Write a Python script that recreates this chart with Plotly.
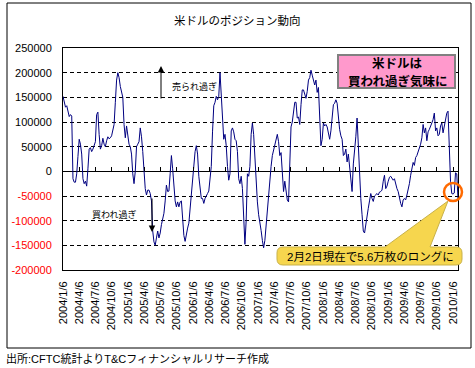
import plotly.graph_objects as go
import pandas as pd

# ---------------- data ----------------
start_date = "2004-01-06"          # weekly CFTC data (Tuesdays) up to 2010-02-02
positions = [
    152000, 140000, 130000, 133000, 118000, 111000, 115000, 112000, -15000, -22000,
    -22000, -5000, 30000, 65000, 55000, 35000, -15000, -25000, -20000, -30000,
    5000, 45000, 48000, 40000, 45000, 55000, 60000, 115000, 120000, 75000,
    45000, 52000, 67000, 55000, 50000, 62000, 70000, 66000, 68000, 72000,
    85000, 95000, 140000, 185000, 200000, 190000, 172000, 160000, 150000, 95000,
    68000, 92000, 75000, 55000, 50000, 35000, -5000, -25000, 0, 50000,
    55000, 60000, 88000, 70000, 40000, 5000, -35000, -48000, -38000, -38000,
    -45000, -60000, -121000, -143000, -150000, -135000, -121000, -135000, -125000, -108000,
    -95000, -85000, -60000, -28000, -41000, -40000, -5000, 32000, 5000, -35000,
    -60000, -72000, -62000, -72000, -62000, -60000, -100000, -130000, -142000, -125000,
    -115000, -105000, -75000, -40000, -5000, 25000, 40000, 52000, 35000, -10000,
    -40000, -55000, -55000, -65000, -55000, -48000, -45000, -40000, -20000, 10000,
    80000, 133000, 140000, 152000, 145000, 152000, 200000, 150000, 92000, 65000,
    75000, 52000, 10000, -18000, -5000, 82000, 88000, 80000, 65000, 62000,
    40000, -15000, -25000, -10000, -35000, -100000, -148000, -100000, -5000, -10000,
    10000, 75000, 98000, 75000, 25000, -25000, -62000, -88000, -110000, -120000,
    -140000, -155000, -140000, -110000, -68000, -45000, -25000, 10000, 32000, 42000,
    55000, 59000, 75000, 60000, 32000, 38000, 5000, -41000, -20000, -35000,
    -58000, -62000, 30000, 90000, 100000, 125000, 140000, 140000, 108000, 110000,
    95000, 135000, 165000, 165000, 155000, 148000, 162000, 185000, 190000, 205000,
    195000, 185000, 175000, 185000, 160000, 170000, 118000, 52000, 65000, 98000,
    92000, 95000, 90000, 80000, 65000, 82000, 110000, 135000, 138000, 145000,
    138000, 105000, 85000, 72000, 65000, 32000, 35000, 45000, 19000, 35000,
    5000, -20000, -41000, 15000, 40000, 70000, 108000, 50000, -15000, -55000,
    -88000, -121000, -125000, -105000, -92000, -75000, -60000, -45000, -55000, -61000,
    -50000, -47000, -45000, -48000, -42000, -41000, -38000, -20000, -8000, -35000,
    -30000, -20000, -12000, -10000, -15000, -18000, -15000, -28000, -35000, -41000,
    -55000, -65000, -72000, -58000, -55000, -58000, -48000, -38000, -25000, -8000,
    5000, 18000, 12000, 28000, 32000, 39000, 45000, 55000, 68000, 95000,
    78000, 88000, 62000, 80000, 85000, 90000, 98000, 105000, 118000, 82000,
    88000, 72000, 75000, 92000, 98000, 78000, 90000, 105000, 118000, 122000,
    52000, -20000, -45000, -46000, -44000, -3000, -5000, -56000,
]
dates = pd.date_range(start_date, periods=len(positions), freq="7D")

tick_dates = [
    "2004-01-06", "2004-04-06", "2004-07-06", "2004-10-06",
    "2005-01-06", "2005-04-06", "2005-07-06", "2005-10-06",
    "2006-01-06", "2006-04-06", "2006-07-06", "2006-10-06",
    "2007-01-06", "2007-04-06", "2007-07-06", "2007-10-06",
    "2008-01-06", "2008-04-06", "2008-07-06", "2008-10-06",
    "2009-01-06", "2009-04-06", "2009-07-06", "2009-10-06",
    "2010-01-06",
]
tick_labels = [
    "2004/1/6", "2004/4/6", "2004/7/6", "2004/10/6",
    "2005/1/6", "2005/4/6", "2005/7/6", "2005/10/6",
    "2006/1/6", "2006/4/6", "2006/7/6", "2006/10/6",
    "2007/1/6", "2007/4/6", "2007/7/6", "2007/10/6",
    "2008/1/6", "2008/4/6", "2008/7/6", "2008/10/6",
    "2009/1/6", "2009/4/6", "2009/7/6", "2009/10/6",
    "2010/1/6",
]
y_ticks = [-200000, -150000, -100000, -50000, 0, 50000, 100000, 150000, 200000, 250000]
y_labels = [f'<span style="color:#FF0000">{v}</span>' if v < 0 else str(v) for v in y_ticks]
x_range = ["2004-01-06", "2010-02-02"]
y_range = [-200000, 250000]

title_text = "米ドルのポジション動向"
note_sold = "売られ過ぎ"
note_bought = "買われ過ぎ"
box_line1 = "米ドルは"
box_line2 = "買われ過ぎ気味に"
callout_text = "2月2日現在で5.6万枚のロングに"
source_text = "出所:CFTC統計よりT&Cフィナンシャルリサーチ作成"

# ---------------- layout helpers ----------------
W, H = 475, 368
L, R, T, B = 63, 17, 48, 98
PW, PH = W - L - R, H - T - B


def fx(px):
    return (px - L) / PW


def fy(py):
    return (H - B - py) / PH


JP = "Noto Sans CJK JP"
NUM = "Liberation Sans, Noto Sans CJK JP"

fig = go.Figure()
fig.add_trace(go.Scatter(
    x=dates, y=positions, mode="lines",
    line=dict(color="#000080", width=1),
    showlegend=False, hoverinfo="skip",
))
# invisible trace to activate the tick axis lying on the zero line
fig.add_trace(go.Scatter(
    x=dates[:1], y=[0], xaxis="x2", mode="markers",
    marker=dict(opacity=0), showlegend=False, hoverinfo="skip",
))

fig.update_layout(
    template="none",
    width=W, height=H,
    margin=dict(l=L, r=R, t=T, b=B, pad=0),
    paper_bgcolor="white", plot_bgcolor="white",
    font=dict(family=NUM, size=11, color="black"),
    showlegend=False,
    xaxis=dict(
        type="date", range=x_range, autorange=False,
        tickmode="array", tickvals=tick_dates, ticktext=tick_labels,
        tickangle=-90, ticks="", ticklabelstandoff=6,
        tickfont=dict(family=NUM, size=11, color="black"),
        showline=True, mirror=True, linecolor="black", linewidth=1,
        showgrid=False, zeroline=False, automargin=False,
    ),
    xaxis2=dict(
        type="date", range=x_range, autorange=False, overlaying="x",
        anchor="free", position=4 / 9, side="bottom",
        tickmode="array", tickvals=tick_dates,
        ticks="inside", ticklen=4, tickwidth=1, tickcolor="black",
        showticklabels=False, showline=False, showgrid=False,
        zeroline=False, automargin=False,
    ),
    yaxis=dict(
        range=y_range, autorange=False,
        tickmode="array", tickvals=y_ticks, ticktext=y_labels,
        ticks="", ticklabelstandoff=8,
        tickfont=dict(family=NUM, size=11, color="black"),
        showline=True, mirror=True, linecolor="black", linewidth=1,
        showgrid=True, gridcolor="black", gridwidth=1, griddash="4px,3px",
        zeroline=True, zerolinecolor="black", zerolinewidth=1,
        automargin=False,
    ),
)

# callout (rounded rectangle with pointer), in pixel-derived paper coords
cx0, cx1, cy0, cy1, r = 277, 462, 247, 265, 6
tip = (448, 201)
pb0, pb1 = 385, 430


def P(x, y):
    return f"{fx(x):.5f},{fy(y):.5f}"


callout_path = (
    f"M{P(cx0 + r, cy0)} L{P(pb0, cy0)} L{P(*tip)} L{P(pb1, cy0)} "
    f"L{P(cx1 - r, cy0)} Q{P(cx1, cy0)} {P(cx1, cy0 + r)} "
    f"L{P(cx1, cy1 - r)} Q{P(cx1, cy1)} {P(cx1 - r, cy1)} "
    f"L{P(cx0 + r, cy1)} Q{P(cx0, cy1)} {P(cx0, cy1 - r)} "
    f"L{P(cx0, cy0 + r)} Q{P(cx0, cy0)} {P(cx0 + r, cy0)} Z"
)

shapes = [
    # outer chart frame
    dict(type="rect", xref="paper", yref="paper",
         x0=fx(7), x1=fx(471), y0=fy(348), y1=fy(3),
         line=dict(color="black", width=1), fillcolor="rgba(0,0,0,0)", layer="below"),
    # pink message box
    dict(type="rect", xref="paper", yref="paper",
         x0=fx(338), x1=fx(455), y0=fy(88), y1=fy(55),
         line=dict(color="#808080", width=2), fillcolor="#FF99CC"),
    # yellow callout
    dict(type="path", xref="paper", yref="paper", path=callout_path,
         line=dict(color="#C8B14A", width=1), fillcolor="#F6D64E"),
    # orange circle
    dict(type="circle", xref="paper", yref="paper",
         x0=fx(444), x1=fx(462), y0=fy(201), y1=fy(183),
         line=dict(color="#FF6A00", width=2.5), fillcolor="rgba(0,0,0,0)"),
]
fig.update_layout(shapes=shapes)


def txt(x, y, s, size=11, bold=False, xanchor="center", family=JP):
    fig.add_annotation(
        xref="paper", yref="paper", x=fx(x), y=fy(y), text=(f"<b>{s}</b>" if bold else s),
        showarrow=False, xanchor=xanchor, yanchor="middle",
        font=dict(family=family, size=size, color="black"),
    )


txt(237.5, 20, title_text, size=11.5)
txt(194, 86, note_sold, size=9)
txt(114, 214, note_bought, size=9)
txt(397, 63, box_line1, size=12.5, bold=True)
txt(397, 80, box_line2, size=12.5, bold=True)
txt(370, 256, callout_text, size=11.5, family=NUM)
txt(4, 358, source_text, size=11, xanchor="left", family=NUM)

# arrows
fig.add_annotation(xref="paper", yref="paper", x=fx(161), y=fy(66), text="",
                   showarrow=True, ax=0, ay=34, arrowhead=2, arrowsize=1.3,
                   arrowwidth=1, arrowcolor="black")
fig.add_annotation(xref="paper", yref="paper", x=fx(152), y=fy(232), text="",
                   showarrow=True, ax=0, ay=-35, arrowhead=2, arrowsize=1.3,
                   arrowwidth=1, arrowcolor="black")

fig.write_html("out.html", config={"displayModeBar": False},
               post_script="document.body.style.margin='0px';")
